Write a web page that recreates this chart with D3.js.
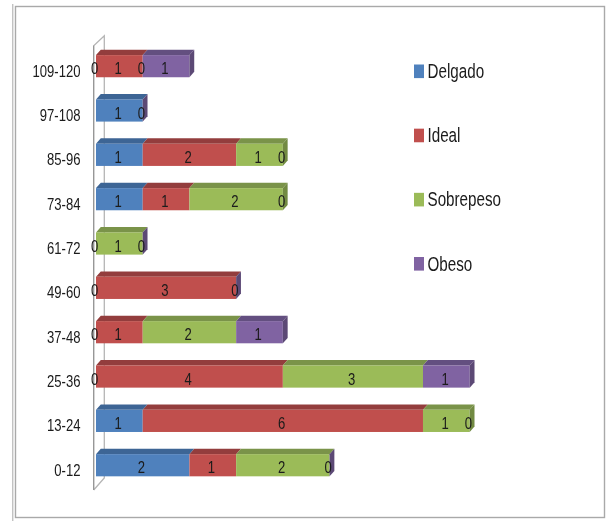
<!DOCTYPE html>
<html><head><meta charset="utf-8">
<script src="https://cdn.jsdelivr.net/npm/d3@7/dist/d3.min.js"></script>
<style>
html,body{margin:0;padding:0;background:#fff}
svg{display:block}
text{font-family:"Liberation Sans",sans-serif;fill:#1a1a1a}
</style></head><body>
<svg id="c" width="608" height="521"></svg>
<script>
const categories = ["109-120","97-108","85-96","73-84","61-72","49-60","37-48","25-36","13-24","0-12"];
const seriesNames = ["Delgado","Ideal","Sobrepeso","Obeso"];
const delgado   = [0,1,1,1,0,0,0,0,1,2];
const ideal     = [1,null,2,1,null,3,1,4,6,1];
const sobrepeso = [0,null,1,2,1,null,2,3,1,2];
const obeso     = [1,0,0,0,0,0,1,1,0,0];
const sideSeries = ["Obeso","Obeso","Sobrepeso","Sobrepeso","Obeso","Obeso","Obeso","Obeso","Sobrepeso","Obeso"];
const frontColors = ["#4F81BD","#C0504D","#9BBB59","#8064A2"];
const topColors   = ["#3E6595","#933E3C","#7A9348","#644F80"];
const sideColors  = ["#3A5E8C","#8A3A38","#728A43","#5B4875"];

const values = [delgado, ideal, sobrepeso, obeso];
const rows = categories.map((c,i)=>{
  const r = {category:c};
  seriesNames.forEach((s,j)=>r[s]=values[j][i]);
  return r;
});
const stacked = d3.stack().keys(seriesNames).value((d,k)=>d[k]===null?0:d[k])(rows);

const x = d3.scaleLinear().domain([0,8]).range([96,469.7]);
const y = d3.scaleBand().domain(categories).range([44,487.4]).paddingInner(0.5).paddingOuter(0.25);
const front = d3.scaleOrdinal(seriesNames, frontColors);
const topc  = d3.scaleOrdinal(seriesNames, topColors);
const side  = d3.scaleOrdinal(seriesNames, sideColors);
const dx = 4.8, dy = 5.4;

const svg = d3.select("#c");
const defs = svg.append("defs");
defs.append("filter").attr("id","soft").append("feGaussianBlur").attr("stdDeviation",0.4);
const root = svg.append("g").attr("filter","url(#soft)");

// outer frame
const frame = root.append("g").attr("fill","none").attr("stroke","#a9a9a9");
frame.append("rect").attr("x",15.5).attr("y",6.5).attr("width",589).attr("height",511).attr("stroke-width",1.4);
frame.append("line").attr("x1",12.8).attr("x2",12.8).attr("y1",4).attr("y2",521).attr("stroke-width",1);

// 3D wall
const wall = root.append("g").attr("fill","none");
const [yTop,yBot] = [45.7,490];
wall.append("path").attr("d",`M93.7,${yBot}V${yTop}L104.3,35.7V478L93.7,${yBot}`).attr("stroke","#b5b5b5").attr("stroke-width",1.3);
wall.append("line").attr("x1",93.7).attr("x2",93.7).attr("y1",yTop).attr("y2",yBot).attr("stroke","#8f8f8f").attr("stroke-width",1);

// bars
const h = y.bandwidth();
const bars = root.append("g");
stacked.forEach(layer=>{
  const g = bars.append("g");
  layer.forEach(d=>{
    const cat = d.data.category, x0=x(d[0]), x1=x(d[1]), yy=y(cat);
    if(d[1]>d[0]){
      g.append("path").attr("fill",topc(layer.key))
        .attr("d",`M${x0},${yy}L${x1},${yy}L${x1+dx},${yy-dy}L${x0+dx},${yy-dy}Z`);
      g.append("rect").attr("x",x0).attr("y",yy).attr("width",x1-x0).attr("height",h).attr("fill",front(layer.key));
    }
  });
});
// end caps
const sides = root.append("g");
categories.forEach((c,i)=>{
  const end = d3.max(stacked, l=>l[i][1]);
  const xe = x(end), yy = y(c);
  sides.append("path").attr("fill",side(sideSeries[i]))
    .attr("d",`M${xe},${yy}L${xe+dx},${yy-dy}L${xe+dx},${yy+h-dy}L${xe},${yy+h}Z`);
});

// data labels
const labels = root.append("g").attr("font-size",17).attr("text-anchor","middle");
stacked.forEach(layer=>{
  layer.forEach(d=>{
    const v = d.data[layer.key];
    if(v===null) return;
    labels.append("text")
      .attr("transform",`translate(${x((d[0]+d[1])/2)-1.3},${y(d.data.category)+h/2+8}) scale(0.77,1)`)
      .text(v);
  });
});

// category axis
const axis = root.append("g").attr("transform","translate(80.5,0)")
  .call(d3.axisLeft(y).tickSize(0).tickPadding(0));
axis.select(".domain").remove();
axis.selectAll("text")
  .attr("x",null).attr("dy",null).attr("y",null)
  .attr("font-size",17)
  .attr("text-anchor","end")
  .attr("transform","translate(0,10.5) scale(0.77,1)");

// legend
const ly = d3.scalePoint().domain(seriesNames).range([71.5,264]);
const legend = root.append("g").selectAll("g").data(seriesNames).join("g")
  .attr("transform",d=>`translate(414,${ly(d)})`);
legend.append("rect").attr("x",0).attr("y",-7).attr("width",10).attr("height",13.6).attr("fill",d=>front(d));
legend.append("text").attr("font-size",19.5)
  .attr("transform","translate(13.5,6.5) scale(0.78,1)").text(d=>d);
</script>
</body></html>
